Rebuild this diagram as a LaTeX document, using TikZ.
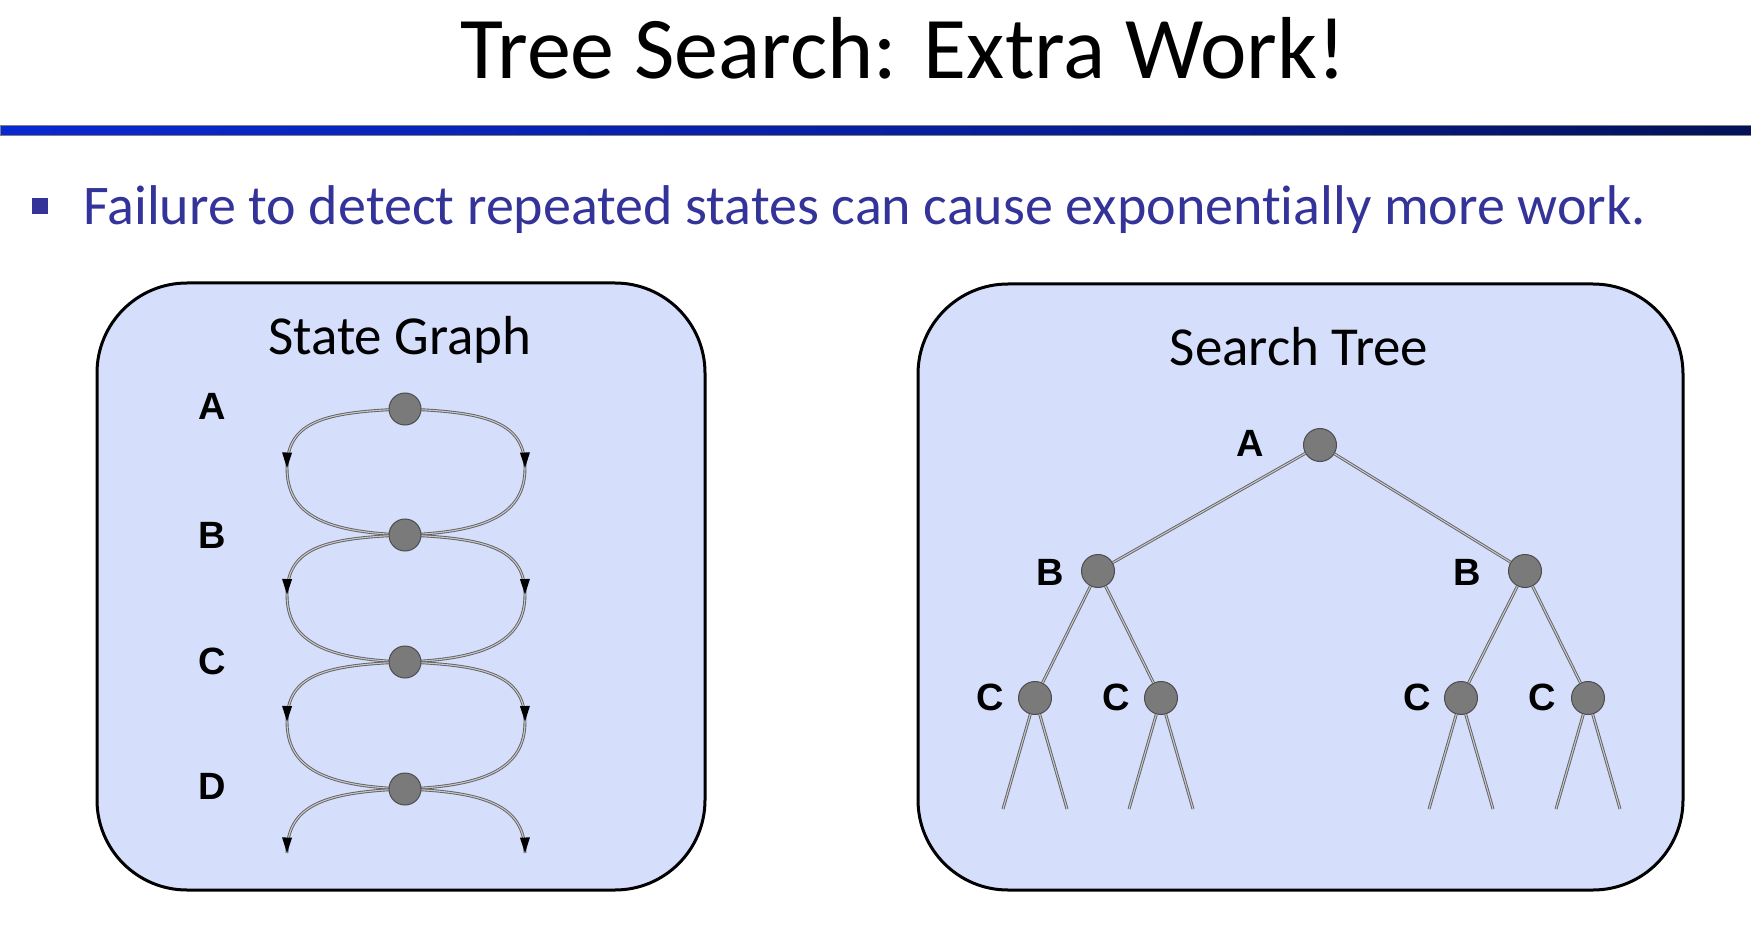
\documentclass[tikz,border=0pt]{standalone}
\usepackage{fontspec}
\setmainfont{Carlito}[Ligatures={NoCommon}]
\newfontfamily\labfont{Liberation Sans}
\usetikzlibrary{calc,decorations.markings}
\pgfdeclarelayer{back}
\pgfdeclarelayer{mid}
\pgfsetlayers{back,mid,main}

\definecolor{boxfill}{HTML}{D5DFFC}
\definecolor{bullettext}{HTML}{333399}
\definecolor{barblue}{HTML}{0A28D2}
\definecolor{barmid}{HTML}{061C8C}
\definecolor{nodegray}{HTML}{7A7A7A}

\pgfdeclarehorizontalshading{barshade}{100bp}{color(0bp)=(barblue); color(25bp)=(barblue); color(60bp)=(barmid); color(100bp)=(black)}

\tikzset{
  panel/.style={draw=black, line width=3pt, fill=boxfill, rounded corners=90pt},
  link/.style={draw=black!62, double=black!22, double distance=1.1pt, line width=0.9pt},
  tipend/.style={postaction={decorate, decoration={markings,
      mark=at position -0.5pt with {\fill[black] (0.5pt,0pt) -- (-15pt,5pt) -- (-15pt,-5pt) -- cycle;}}}},
  gnode/.style={circle, fill=nodegray, draw=black!70, line width=1pt, minimum size=32pt, inner sep=0pt},
  tnode/.style={circle, fill=nodegray, draw=black!70, line width=1pt, minimum size=33pt, inner sep=0pt},
  letter/.style={font=\labfont\bfseries\fontsize{38}{40}\selectfont, inner sep=0pt},
  heading/.style={font=\fontsize{55}{60}\selectfont, inner sep=0pt, anchor=base}
}

\begin{document}
\begin{tikzpicture}[x=1pt, y=-1pt]
\useasboundingbox (0,0) rectangle (1751,941);

% title and rule
\node[font=\fontsize{88}{100}\selectfont, inner sep=0pt, anchor=base] (title) at (903,79) {Tree Search: Extra Work!};
\shade[shading=barshade, draw=black!50, line width=1pt] (0,126) rectangle (1751,136);

% bullet line
\node[fill=bullettext, minimum size=16pt, inner sep=0pt] (bsq) at (40,206) {};
\node[font=\fontsize{56}{60}\selectfont, text=bullettext, inner sep=0pt, anchor=base west] (btext) at (83,225)
  {Failure to detect repeated states can cause exponentially more work.};

% panels
\begin{pgfonlayer}{back}
  \path[panel] (97,283) rectangle (705,890);
  \path[panel] (918,284) rectangle (1683,890);
\end{pgfonlayer}
\node[heading] (sgtitle) at (400,355) {State Graph};
\node[heading] (sttitle) at (1299,365) {Search Tree};

% state graph
\node[gnode] (A) at (405,409) {};
\node[gnode] (B) at (405,535) {};
\node[gnode] (C) at (405,662) {};
\node[gnode] (D) at (405,789) {};
\node[letter] (lA) at (212,406) {A};
\node[letter] (lB) at (212,535) {B};
\node[letter] (lC) at (212,661) {C};
\node[letter] (lD) at (212,786) {D};

\begin{pgfonlayer}{mid}
\foreach \t/\u in {A/B,B/C,C/D}{
  \coordinate (\t\u l) at ($(\t)!0.5!(\u)+(-118,-4)$);
  \coordinate (\t\u r) at ($(\t)!0.5!(\u)+(120,-4)$);
  \draw[link, tipend] (\t.center) .. controls +(-80,3) and +(0,-47) .. (\t\u l);
  \draw[link] (\t\u l) .. controls +(0,47) and +(-80,-3) .. (\u.center);
  \draw[link, tipend] (\t.center) .. controls +(80,3) and +(0,-47) .. (\t\u r);
  \draw[link] (\t\u r) .. controls +(0,47) and +(80,-3) .. (\u.center);
}
\coordinate (Dl) at (287,853);
\coordinate (Dr) at (525,853);
\draw[link, tipend] (D.center) .. controls +(-80,3) and +(0,-48) .. (Dl);
\draw[link, tipend] (D.center) .. controls +(80,3) and +(0,-48) .. (Dr);
\end{pgfonlayer}

% search tree
\node[tnode] (tA) at (1320,445) {};
\node[tnode] (tB1) at (1098,571) {};
\node[tnode] (tB2) at (1525,571) {};
\node[tnode] (tC1) at (1035,698) {};
\node[tnode] (tC2) at (1161,698) {};
\node[tnode] (tC3) at (1461,698) {};
\node[tnode] (tC4) at (1588,698) {};
\node[letter] (ltA) at (1250,443) {A};
\node[letter] (ltB1) at (1050,572) {B};
\node[letter] (ltB2) at (1467,572) {B};
\node[letter] (ltC1) at (990,697) {C};
\node[letter] (ltC2) at (1116,697) {C};
\node[letter] (ltC3) at (1417,697) {C};
\node[letter] (ltC4) at (1542,697) {C};

\draw[link] (tA) -- (tB1);
\draw[link] (tA) -- (tB2);
\draw[link] (tB1) -- (tC1);
\draw[link] (tB1) -- (tC2);
\draw[link] (tB2) -- (tC3);
\draw[link] (tB2) -- (tC4);
\foreach \c/\x in {tC1/1035,tC2/1161,tC3/1461,tC4/1588}{
  \coordinate (\c a) at (\x-32,809);
  \coordinate (\c b) at (\x+32,809);
  \draw[link] (\c) -- (\c a);
  \draw[link] (\c) -- (\c b);
}
\end{tikzpicture}
\end{document}
